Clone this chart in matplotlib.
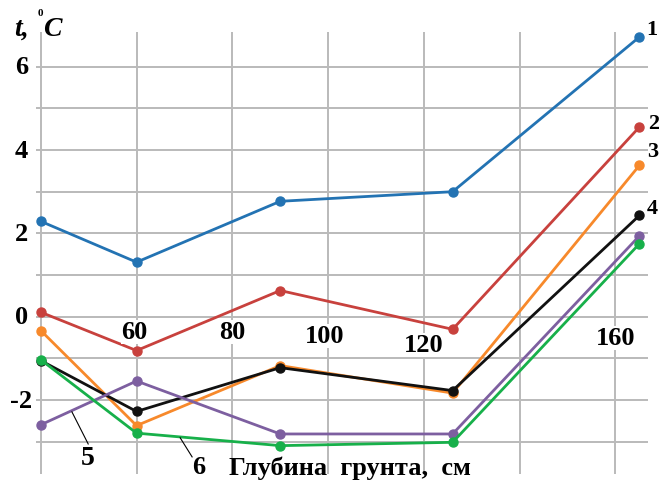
import matplotlib
matplotlib.use("Agg")
import matplotlib.pyplot as plt

# Soil depth (cm) and temperature profiles (deg C) for six series
depth = [40, 60, 90, 126, 165]
series_1 = [2.29, 1.31, 2.77, 3.00, 6.71]
series_2 = [0.11, -0.81, 0.63, -0.30, 4.55]
series_3 = [-0.33, -2.61, -1.17, -1.83, 3.63]
series_4 = [-1.05, -2.27, -1.22, -1.77, 2.43]
series_5 = [-2.59, -1.54, -2.81, -2.81, 1.94]
series_6 = [-1.03, -2.79, -3.09, -3.01, 1.75]

series_names = ["1", "2", "3", "4", "5", "6"]
x_tick_labels = ["60", "80", "100", "120", "160"]
y_tick_values = [-2, 0, 2, 4, 6]

colors = ["#2373b3", "#c8413d", "#f7892b", "#111111", "#7d5fa0", "#17b04a"]
all_series = [series_1, series_2, series_3, series_4, series_5, series_6]

serif = ["Liberation Serif", "DejaVu Serif"]
plt.rcParams["font.family"] = serif

fig = plt.figure(figsize=(6.59, 4.81), dpi=100)
W, H = 659, 481
ax = fig.add_axes([36 / W, 6 / H, 612 / W, 442 / H])

ax.set_xlim(39.0, 166.8)
ax.set_ylim(-3.77, 6.83)

# grid: vertical every 20 cm, horizontal every 1 degree
ax.set_xticks([40, 60, 80, 100, 120, 140, 160])
ax.set_yticks(range(-3, 7), minor=False)
ax.grid(True, color="#bababa", linewidth=1.4, zorder=0)
ax.tick_params(length=0, labelbottom=False, labelleft=False)
for s in ax.spines.values():
    s.set_visible(False)

for ys, c in zip(all_series, colors):
    ax.plot(depth, ys, color=c, linewidth=2.0, marker="o", markersize=6.5,
            zorder=3, clip_on=False)

# y tick labels (left of the plot)
for v in y_tick_values:
    ax.text(-0.024, v, str(v), transform=ax.get_yaxis_transform(),
            ha="center", va="center", fontsize=19, fontweight="bold")

# x tick labels sit just below the zero line, with white boxes
x_label_pos = {"60": (59.5, -0.36), "80": (80, -0.36), "100": (99.3, -0.45),
               "120": (120, -0.67), "160": (160, -0.5)}
for lab in x_tick_labels:
    px, py = x_label_pos[lab]
    ax.text(px, py, lab, ha="center", va="center", fontsize=19,
            fontweight="bold", zorder=5,
            bbox=dict(facecolor="white", edgecolor="none", pad=0.3))

# series labels at the right end
right_pos = {"1": (167.6, 6.9), "2": (167.9, 4.65), "3": (167.7, 3.98),
             "4": (167.7, 2.61)}
for name in ["1", "2", "3", "4"]:
    px, py = right_pos[name]
    ax.text(px, py, name, ha="center", va="center", fontsize=16,
            fontweight="bold", clip_on=False)

# series 5 and 6 with leader lines
ax.plot([46.5, 49.9], [-2.28, -3.05], color="black", linewidth=0.8, zorder=4)
ax.text(49.9, -3.38, series_names[4], ha="center", va="center", fontsize=20,
        fontweight="bold")
ax.plot([69.1, 71.6], [-2.90, -3.36], color="black", linewidth=0.8, zorder=4)
ax.text(72.9, -3.6, series_names[5], ha="center", va="center", fontsize=19,
        fontweight="bold")

# axis titles
ax.text(104.6, -3.62, "Глубина  грунта,  см", ha="center", va="center",
        fontsize=19, fontweight="bold")
fig.text(14 / W, 1 - 36 / H, "t,", fontsize=20, fontweight="bold",
         style="italic", va="baseline")
fig.text(43 / W, 1 - 36 / H, "C", fontsize=20, fontweight="bold",
         style="italic", va="baseline")
fig.text(38 / W, 1 - 16 / H, "0", fontsize=8, fontweight="bold",
         va="baseline")

fig.savefig("out.png", dpi=100, facecolor="white")
